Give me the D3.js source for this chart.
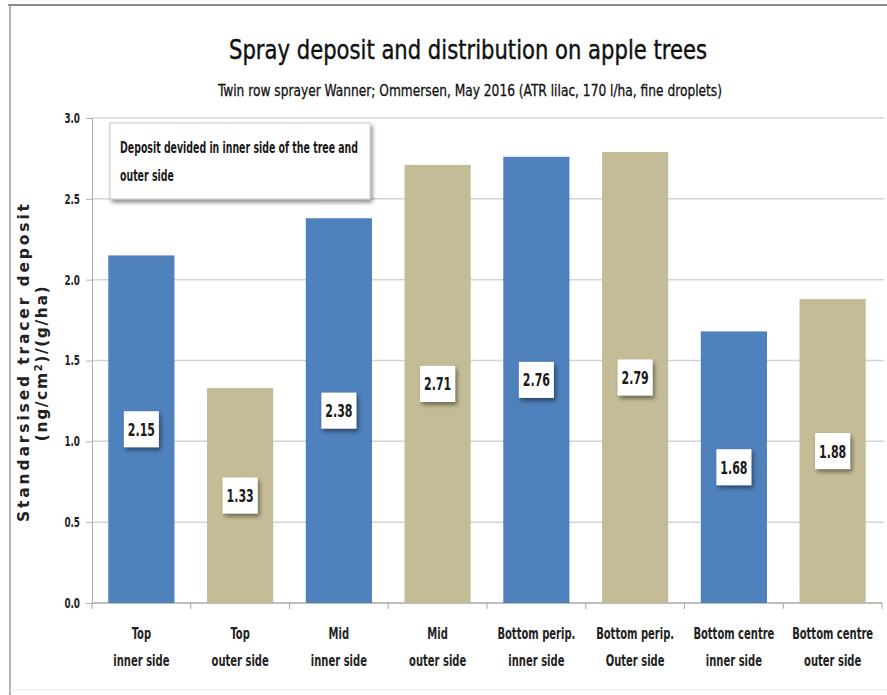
<!DOCTYPE html>
<html>
<head>
<meta charset="utf-8">
<script src="https://cdn.jsdelivr.net/npm/d3@7"></script>
<style>
  html, body { margin: 0; padding: 0; background: #fff; }
  svg { display: block; }
  .narrow { font-family: "DejaVu Sans Condensed", "DejaVu Sans", sans-serif; font-stretch: condensed; }
</style>
</head>
<body>
<script>
// Spray deposit per canopy zone (ng/cm²)/(g/ha)
const categories = [
  ["Top", "inner side"],
  ["Top", "outer side"],
  ["Mid", "inner side"],
  ["Mid", "outer side"],
  ["Bottom perip.", "inner side"],
  ["Bottom perip.", "Outer side"],
  ["Bottom centre", "inner side"],
  ["Bottom centre", "outer side"]
];
const deposit = [2.15, 1.33, 2.38, 2.71, 2.76, 2.79, 1.68, 1.88];
const side = ["inner", "outer", "inner", "outer", "inner", "outer", "inner", "outer"];
const yTicks = [0, 0.5, 1.0, 1.5, 2.0, 2.5, 3.0];
const colors = { inner: "#4F81BD", outer: "#C4BC96" };

const W = 887, H = 695;
const svg = d3.select("body").append("svg").attr("width", W).attr("height", H);

// Squeeze text horizontally to a narrow, Calibri-like width
function condense(sel, k) {
  sel.each(function () {
    const L = this.getComputedTextLength();
    d3.select(this).attr("textLength", L * k).attr("lengthAdjust", "spacingAndGlyphs");
  });
}

const defs = svg.append("defs");
const shadow = defs.append("filter").attr("id", "shadow")
  .attr("x", "-20%").attr("y", "-20%").attr("width", "150%").attr("height", "160%");
shadow.append("feDropShadow").attr("dx", 2).attr("dy", 3).attr("stdDeviation", 2)
  .attr("flood-color", "#000").attr("flood-opacity", 0.45);

// Chart frame
svg.append("line").attr("x1", 8).attr("x2", W).attr("y1", 5).attr("y2", 5)
  .attr("stroke", "#8c8c8c").attr("stroke-width", 2);
svg.append("line").attr("x1", 10).attr("x2", 10).attr("y1", 5).attr("y2", H)
  .attr("stroke", "#9a9a9a").attr("stroke-width", 1.5);
svg.append("line").attr("x1", 10).attr("x2", W).attr("y1", 690).attr("y2", 690)
  .attr("stroke", "#e6e6e6").attr("stroke-width", 1);

const plot = { left: 92, right: 882, top: 118, bottom: 603 };

const x = d3.scaleBand().domain(d3.range(categories.length))
  .range([plot.left, plot.right]).paddingInner(0.33).paddingOuter(0.165);
const xOuter = d3.scaleBand().domain(d3.range(categories.length))
  .range([plot.left, plot.right]);
const y = d3.scaleLinear().domain([0, 3]).range([plot.bottom, plot.top]);

// Gridlines
svg.append("g").selectAll("line").data(yTicks.filter(d => d > 0)).join("line")
  .attr("x1", plot.left).attr("x2", 884)
  .attr("y1", d => y(d)).attr("y2", d => y(d))
  .attr("stroke", "#d4d4d4").attr("stroke-width", 1.5);

// Y axis
const yAxis = svg.append("g").attr("transform", `translate(${plot.left},0)`)
  .call(d3.axisLeft(y).tickValues(yTicks).tickFormat(d3.format(".1f")).tickSize(6).tickPadding(6));
yAxis.select(".domain").attr("stroke", "#b0b0b0");
yAxis.selectAll(".tick line").attr("stroke", "#b0b0b0");
yAxis.selectAll("text").attr("class", "narrow").attr("font-size", 14)
  .attr("font-weight", "bold").attr("fill", "#222")
  .call(condense, 0.7);

// X axis
const xAxis = svg.append("g").attr("transform", `translate(0,${plot.bottom})`);
xAxis.append("line").attr("x1", plot.left).attr("x2", plot.right)
  .attr("stroke", "#a8a8a8").attr("stroke-width", 1.5);
xAxis.selectAll("line.tk").data(d3.range(categories.length + 1)).join("line")
  .attr("class", "tk")
  .attr("x1", i => plot.left + i * xOuter.step()).attr("x2", i => plot.left + i * xOuter.step())
  .attr("y1", 0).attr("y2", 6).attr("stroke", "#a8a8a8");
// Two-line category labels, narrowed with a horizontal scale
const cat = xAxis.selectAll("g.cat").data(categories).join("g")
  .attr("class", "cat")
  .attr("transform", (d, i) => `translate(${x(i) + x.bandwidth() / 2},0) scale(0.74,1)`);
[0, 1].forEach(line => {
  cat.append("text")
    .attr("class", "narrow").attr("text-anchor", "middle")
    .attr("x", 0).attr("y", line ? 63 : 36)
    .attr("font-size", 15).attr("font-weight", "bold").attr("fill", "#222")
    .text(d => d[line]);
});

// Bars
svg.append("g").selectAll("rect").data(deposit).join("rect")
  .attr("x", (d, i) => x(i)).attr("width", x.bandwidth())
  .attr("y", d => y(d)).attr("height", d => y(0) - y(d))
  .attr("fill", (d, i) => colors[side[i]]);

// Value labels in the middle of each bar
const lab = svg.append("g").selectAll("g").data(deposit).join("g")
  .attr("transform", (d, i) => `translate(${x(i) + x.bandwidth() / 2},${y(d / 2)})`);
lab.append("rect").attr("x", -17.5).attr("y", -18).attr("width", 35).attr("height", 36)
  .attr("fill", "#fff").attr("filter", "url(#shadow)");
lab.append("text").attr("class", "narrow").attr("text-anchor", "middle").attr("dy", "0.36em")
  .attr("font-size", 18).attr("font-weight", "bold").attr("fill", "#1a1a1a")
  .text(d => d3.format(".2f")(d))
  .call(condense, 0.68);

// Note box
const note = svg.append("g").attr("transform", "translate(110,123)");
note.append("rect").attr("width", 260).attr("height", 76).attr("fill", "#fff")
  .attr("stroke", "#c8c8c8").attr("filter", "url(#shadow)");
const noteLines = ["Deposit devided in inner side of the tree and", "outer side"];
const nt = note.selectAll("text").data(noteLines).join("text")
  .attr("class", "narrow").attr("x", 10).attr("y", (d, i) => 30 + i * 28)
  .attr("font-size", 15).attr("font-weight", "bold").attr("fill", "#1a1a1a")
  .text(d => d);
const noteK = 238 / nt.node().getComputedTextLength();
nt.call(condense, noteK);

// Titles
svg.append("text").attr("class", "narrow").attr("x", 468).attr("y", 59)
  .attr("text-anchor", "middle").attr("font-size", 26).attr("fill", "#111")
  .attr("stroke", "#111").attr("stroke-width", 0.4)
  .text("Spray deposit and distribution on apple trees")
  .attr("textLength", 478).attr("lengthAdjust", "spacingAndGlyphs");
svg.append("text").attr("class", "narrow").attr("x", 470).attr("y", 96)
  .attr("text-anchor", "middle").attr("font-size", 16).attr("fill", "#111")
  .attr("stroke", "#111").attr("stroke-width", 0.3)
  .text("Twin row sprayer Wanner; Ommersen, May 2016 (ATR lilac, 170 l/ha, fine droplets)")
  .attr("textLength", 504).attr("lengthAdjust", "spacingAndGlyphs");

// Y axis title
const yt = svg.append("g").attr("transform", "translate(0,363) rotate(-90)")
  .attr("font-family", "DejaVu Sans, sans-serif").attr("font-weight", "bold")
  .attr("fill", "#222").attr("text-anchor", "middle");
yt.append("text").attr("x", 0).attr("y", 29).attr("font-size", 15.5)
  .text("Standarsised tracer deposit")
  .attr("textLength", 318).attr("lengthAdjust", "spacing");
const l2 = yt.append("text").attr("x", 0).attr("y", 47).attr("font-size", 15.5).attr("letter-spacing", 1.6);
l2.append("tspan").text("(ng/cm");
l2.append("tspan").attr("font-size", 10).attr("dy", -5).text("2");
l2.append("tspan").attr("dy", 5).text(")/(g/ha)");
</script>
</body>
</html>
